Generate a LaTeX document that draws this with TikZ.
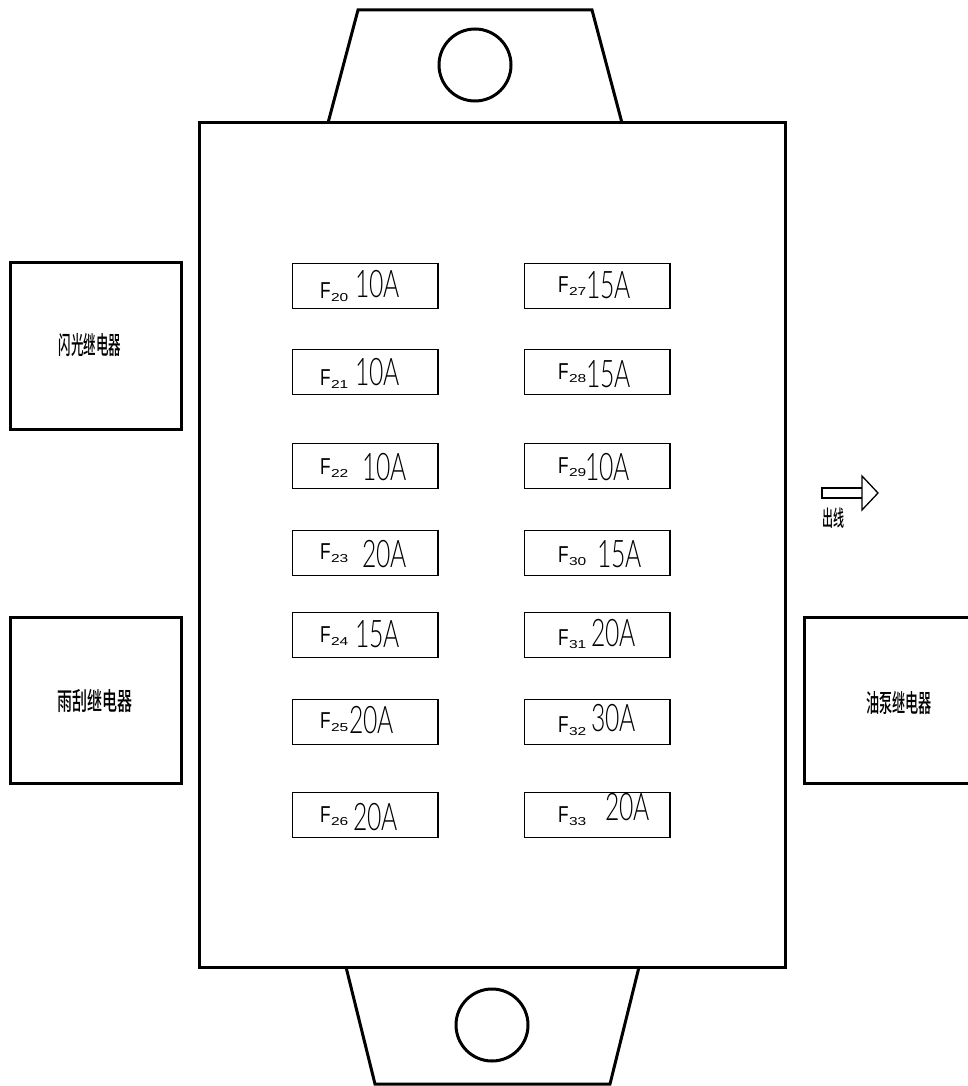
\documentclass[tikz,border=0pt]{standalone}
\usepackage{fontspec}
\setmainfont{Liberation Sans}
\newfontfamily\cjk{Noto Sans CJK SC Medium}
\newfontfamily\thinf{Lato Light}
\tikzset{
  thickline/.style={draw=black,line width=3pt,line join=miter},
  fusebox/.style={draw=black,line width=1.3pt,fill=none},
  ampere/.style={anchor=base west,inner sep=0pt,xscale=0.65,font=\thinf\fontsize{38}{38}\selectfont},
  fuselabel/.style={anchor=base west,inner sep=0pt,xscale=0.75,font=\fontsize{23}{23}\selectfont},
  relaytext/.style={inner sep=0pt,xscale=0.5,font=\cjk\fontsize{25}{25}\selectfont},
  outtext/.style={inner sep=0pt,xscale=0.5,font=\cjk\fontsize{22}{22}\selectfont},
}
\newcommand{\fusecell}[9]{%
  % #1 id, #2 left, #3 top, #4 F x, #5 F base, #6 sub, #7 amp x, #8 amp base, #9 amp
  \node[fusebox,anchor=north west,minimum width=145.6pt,minimum height=45pt,inner sep=0pt,outer sep=0pt] (box#1) at (#2+0.4,#3+0.4) {};
  \node[fuselabel] (lab#1) at (#4,#5) {F\hspace{0.5pt}\raisebox{-3.5pt}{\scalebox{1.8}[1]{\fontsize{11.5}{11.5}\selectfont #6}}};
  \node[ampere] (amp#1) at (#7,#8) {#9};
}
\begin{document}
\begin{tikzpicture}[x=1pt,y=-1pt]
\useasboundingbox (0,0) rectangle (967,1086);
\fill[white] (0,0) rectangle (967,1086);
% body
\draw[thickline] (199,123) rectangle (785,967);
\draw[thickline] (328,123) -- (358,10) -- (592,10) -- (622,123);
\draw[thickline] (346,967) -- (375,1084) -- (610,1084) -- (639,967);
\node[draw=black,line width=3pt,circle,minimum size=72pt,inner sep=0pt] (holetop) at (475,65) {};
\node[draw=black,line width=3pt,circle,minimum size=72pt,inner sep=0pt] (holebot) at (492,1025) {};
% relays
\draw[thickline] (10,262) rectangle (181,429);
\draw[thickline] (10,617) rectangle (181,783);
\draw[thickline] (970,617) -- (804,617) -- (804,783) -- (970,783);
\node[relaytext] (relayA) at (90,345) {闪光继电器};
\node[relaytext,xscale=1.2] (relayB) at (95,701) {雨刮继电器};
\node[relaytext,xscale=1.05] (relayC) at (899,703) {油泵继电器};
% fuses left
\fusecell{20}{292}{263}{320}{298}{20}{355}{297}{10A}
\fusecell{21}{292}{349}{320}{385}{21}{355}{385}{10A}
\fusecell{22}{292}{443}{320}{474}{22}{362}{480}{10A}
\fusecell{23}{292}{530}{320}{559}{23}{362}{567}{20A}
\fusecell{24}{292}{612}{320}{642}{24}{355}{647}{15A}
\fusecell{25}{292}{699}{320}{728}{25}{349}{733}{20A}
\fusecell{26}{292}{792}{320}{822}{26}{353}{830}{20A}
% fuses right
\fusecell{27}{524}{263}{558}{292}{27}{586}{298}{15A}
\fusecell{28}{524}{349}{558}{379}{28}{586}{387}{15A}
\fusecell{29}{524}{443}{558}{473}{29}{585}{480}{10A}
\fusecell{30}{524}{530}{558}{562}{30}{597}{567}{15A}
\fusecell{31}{524}{612}{558}{645}{31}{591}{646}{20A}
\fusecell{32}{524}{699}{558}{732}{32}{591}{731}{30A}
\fusecell{33}{524}{792}{558}{822}{33}{605}{820}{20A}
% arrow
\draw[black,line width=1.3pt] (862,488) -- (822,488) -- (822,498) -- (862,498);
\draw[black,line width=1.3pt,line join=miter] (862,476) -- (878,493) -- (862,510) -- cycle;
\node[outtext] (outlabel) at (833,518) {出线};
\end{tikzpicture}
\end{document}
